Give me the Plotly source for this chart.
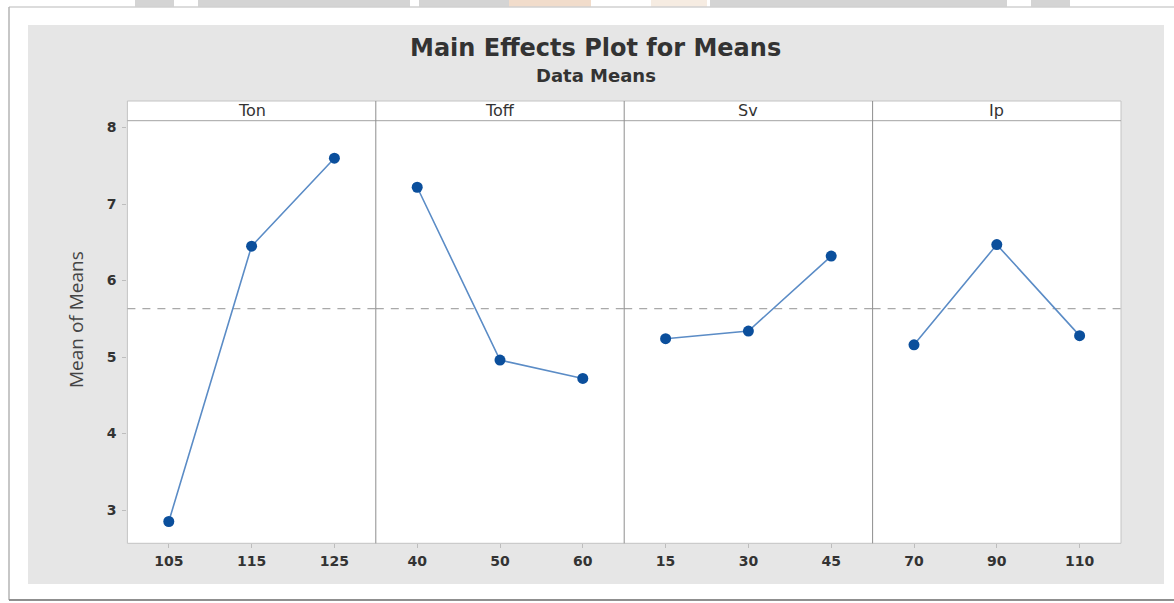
import numpy as np
import plotly.graph_objects as go

# ---------------- data ----------------
factors = ["Ton", "Toff", "Sv", "Ip"]
ton_levels = ["105", "115", "125"]
toff_levels = ["40", "50", "60"]
sv_levels = ["15", "30", "45"]
ip_levels = ["70", "90", "110"]

ton_means = [2.85, 6.45, 7.60]
toff_means = [7.22, 4.96, 4.72]
sv_means = [5.24, 5.34, 6.32]
ip_means = [5.16, 6.47, 5.28]

y_ticks = [3, 4, 5, 6, 7, 8]

levels = [ton_levels, toff_levels, sv_levels, ip_levels]
means = [ton_means, toff_means, sv_means, ip_means]
grand_mean = float(np.mean(np.concatenate([np.array(m) for m in means])))

# ---------------- geometry helpers ----------------
W, H = 1174, 603
def px(x):
    return x / W
def py(y):
    return 1 - y / H

left, right = 127.4, 1121.0
top_plot, bottom_plot = 120.7, 543.3
strip_top = 101.0
edges = [left + i * (right - left) / 4 for i in range(5)]

fig = go.Figure()

line_col = "#5b8cc6"
marker_col = "#0b4f9c"

for i in range(4):
    xa = "x" if i == 0 else f"x{i+1}"
    fig.add_trace(go.Scatter(
        x=levels[i], y=means[i], xaxis=xa, yaxis="y",
        mode="lines+markers",
        line=dict(color=line_col, width=1.6),
        marker=dict(color=marker_col, size=11),
        showlegend=False, hoverinfo="x+y",
    ))

layout = dict(
    width=W, height=H,
    margin=dict(l=0, r=0, t=0, b=0),
    paper_bgcolor="white",
    plot_bgcolor="white",
    showlegend=False,
)

tickfont = dict(family="DejaVu Sans", size=14, color="#333333", weight="bold")

for i in range(4):
    key = "xaxis" if i == 0 else f"xaxis{i+1}"
    layout[key] = dict(
        domain=[px(edges[i]), px(edges[i + 1])],
        anchor="y",
        type="category",
        range=[-0.5, 2.5],
        showgrid=False, zeroline=False, showline=False,
        ticks="outside", ticklen=4, tickcolor="#bdbdbd", tickwidth=1,
        tickfont=tickfont,
        ticklabelstandoff=1,
        fixedrange=True,
    )

layout["yaxis"] = dict(
    domain=[py(bottom_plot), py(top_plot)],
    anchor="x",
    range=[2.565, 8.09],
    tickvals=y_ticks,
    ticktext=[str(v) for v in y_ticks],
    showgrid=False, zeroline=False, showline=False,
    ticks="outside", ticklen=4, tickcolor="#bdbdbd", tickwidth=1,
    tickfont=tickfont,
    ticklabelstandoff=3,
    fixedrange=True,
)

shapes = []
# top fragments of a background image
for (x0, x1, c) in [(135, 174, "#d4d4d4"), (198, 410, "#d4d4d4"), (419, 509, "#d4d4d4"),
                    (509, 591, "#f1dccb"), (651, 707, "#f6ece2"), (710, 1007, "#d4d4d4"),
                    (1031, 1070, "#d4d4d4")]:
    shapes.append(dict(type="rect", xref="paper", yref="paper", x0=px(x0), x1=px(x1),
                       y0=py(7), y1=py(0), fillcolor=c, line=dict(width=0), layer="below"))
# outer frame (left, top, bottom edges only)
shapes.append(dict(type="line", xref="paper", yref="paper", x0=px(9), x1=px(1174),
                   y0=py(7), y1=py(7), line=dict(color="#d0d0d0", width=1.5), layer="below"))
shapes.append(dict(type="line", xref="paper", yref="paper", x0=px(9), x1=px(9),
                   y0=py(600), y1=py(7), line=dict(color="#b5b5b5", width=1.5), layer="below"))
shapes.append(dict(type="line", xref="paper", yref="paper", x0=px(9), x1=px(1174),
                   y0=py(600), y1=py(600), line=dict(color="#8f8f8f", width=2), layer="below"))
# gray panel
shapes.append(dict(type="rect", xref="paper", yref="paper", x0=px(28), x1=px(1164),
                   y0=py(584), y1=py(25), fillcolor="#e6e6e6",
                   line=dict(width=0), layer="below"))
# white plot area + strip
shapes.append(dict(type="rect", xref="paper", yref="paper", x0=px(left), x1=px(right),
                   y0=py(bottom_plot), y1=py(strip_top), fillcolor="white",
                   line=dict(color="#c4c4c4", width=1), layer="below"))
# strip bottom line
shapes.append(dict(type="line", xref="paper", yref="paper", x0=px(left), x1=px(right),
                   y0=py(top_plot), y1=py(top_plot), line=dict(color="#a3a3a3", width=1)))
# panel dividers
for e in edges[1:4]:
    shapes.append(dict(type="line", xref="paper", yref="paper", x0=px(e), x1=px(e),
                       y0=py(bottom_plot), y1=py(strip_top), line=dict(color="#8e8e8e", width=1)))
# grand mean reference line
for i in range(4):
    xr = "x domain" if i == 0 else f"x{i+1} domain"
    shapes.append(dict(type="line", xref=xr, yref="y", x0=0, x1=1, y0=grand_mean, y1=grand_mean,
                       line=dict(color="#a9a9a9", width=1.2, dash="8px,7px"), layer="below"))
layout["shapes"] = shapes

annotations = []
annotations.append(dict(text="Main Effects Plot for Means", xref="paper", yref="paper",
                        x=px(596), y=py(48), xanchor="center", yanchor="middle", showarrow=False,
                        font=dict(family="DejaVu Sans", size=24, color="#333333", weight="bold")))
annotations.append(dict(text="Data Means", xref="paper", yref="paper",
                        x=px(596), y=py(75), xanchor="center", yanchor="middle", showarrow=False,
                        font=dict(family="DejaVu Sans", size=18, color="#333333", weight="bold")))
for i, f in enumerate(factors):
    annotations.append(dict(text=f, xref="paper", yref="paper",
                            x=px((edges[i] + edges[i + 1]) / 2), y=py(111),
                            xanchor="center", yanchor="middle", showarrow=False,
                            font=dict(family="DejaVu Sans", size=16, color="#333333")))
annotations.append(dict(text="Mean of Means", xref="paper", yref="paper",
                        x=px(76), y=py(320), xanchor="center", yanchor="middle",
                        textangle=-90, showarrow=False,
                        font=dict(family="Open Sans", size=19, color="#444444")))
layout["annotations"] = annotations

fig.update_layout(**layout)
fig.write_html("out.html",
               config={"displayModeBar": False},
               post_script="document.body.style.margin='0';document.body.style.overflow='hidden';")
